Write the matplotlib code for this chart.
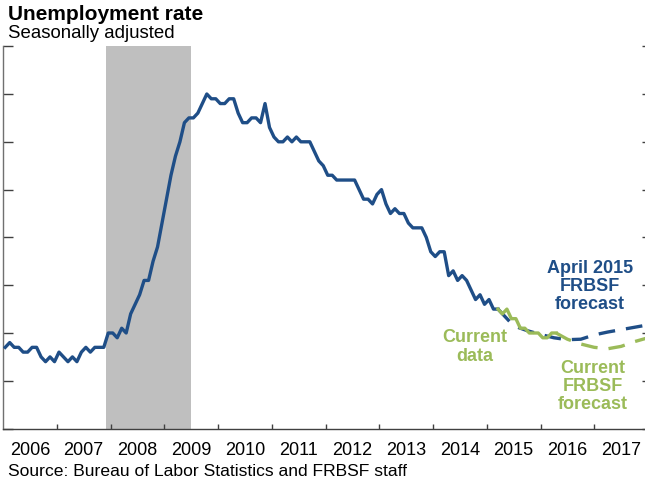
import numpy as np
import matplotlib.pyplot as plt

plt.rcParams['font.family'] = ['Liberation Sans', 'DejaVu Sans']

blue = '#1F4E87'
green = '#9BBB59'
gray = '#BFBFBF'

# monthly unemployment rate, April 2015 vintage, Jan 2006 - Mar 2015
rate_apr2015 = [
    4.7, 4.8, 4.7, 4.7, 4.6, 4.6, 4.7, 4.7, 4.5, 4.4, 4.5, 4.4,
    4.6, 4.5, 4.4, 4.5, 4.4, 4.6, 4.7, 4.6, 4.7, 4.7, 4.7, 5.0,
    5.0, 4.9, 5.1, 5.0, 5.4, 5.6, 5.8, 6.1, 6.1, 6.5, 6.8, 7.3,
    7.8, 8.3, 8.7, 9.0, 9.4, 9.5, 9.5, 9.6, 9.8, 10.0, 9.9, 9.9,
    9.8, 9.8, 9.9, 9.9, 9.6, 9.4, 9.4, 9.5, 9.5, 9.4, 9.8, 9.3,
    9.1, 9.0, 9.0, 9.1, 9.0, 9.1, 9.0, 9.0, 9.0, 8.8, 8.6, 8.5,
    8.3, 8.3, 8.2, 8.2, 8.2, 8.2, 8.2, 8.0, 7.8, 7.8, 7.7, 7.9,
    8.0, 7.7, 7.5, 7.6, 7.5, 7.5, 7.3, 7.2, 7.2, 7.2, 7.0, 6.7,
    6.6, 6.7, 6.7, 6.2, 6.3, 6.1, 6.2, 6.1, 5.9, 5.7, 5.8, 5.6,
    5.7, 5.5, 5.5,
]
start_apr2015 = 2006.0

# current data, Mar 2015 - Apr 2016
rate_current = [5.5, 5.4, 5.5, 5.3, 5.3, 5.1, 5.1, 5.0, 5.0, 5.0, 4.9, 4.9, 5.0, 5.0]
start_current = 2015 + 2 / 12

# forecasts
fc_apr2015_t = [2015.21, 2015.5, 2015.75, 2016.0, 2016.25, 2016.5, 2016.75,
                2017.0, 2017.25, 2017.5, 2017.75, 2018.0]
fc_apr2015_v = [5.5, 5.15, 5.05, 4.97, 4.9, 4.86, 4.87, 4.96, 5.02, 5.07, 5.12, 5.17]
fc_current_t = [2016.29, 2016.5, 2016.75, 2017.0, 2017.25, 2017.5, 2017.75, 2018.0]
fc_current_v = [5.0, 4.87, 4.77, 4.7, 4.67, 4.72, 4.82, 4.9]

recession = (2007 + 11 / 12, 2009.5)
years = list(range(2006, 2018))


def month_times(start, n):
    return start + (np.arange(n) + 0.5) / 12


fig = plt.figure(figsize=(6.45, 4.84), dpi=100)
ax = fig.add_axes([3 / 645, 1 - 428.6 / 484, 1.0, (428.6 - 46.2) / 484])

ax.axvspan(recession[0], recession[1], color=gray, lw=0, zorder=0)

dash = (5, 3.3)
ax.plot(fc_apr2015_t, fc_apr2015_v, color=blue, lw=2.4, dashes=dash, zorder=2)
ax.plot(fc_current_t, fc_current_v, color=green, lw=2.4, dashes=dash, zorder=3)
ax.plot(month_times(start_apr2015, len(rate_apr2015)), rate_apr2015,
        color=blue, lw=2.4, zorder=4, solid_joinstyle='round')
ax.plot(month_times(start_current, len(rate_current)), rate_current,
        color=green, lw=2.4, zorder=5, solid_joinstyle='round')

ax.set_xlim(2006, 2018)
ax.set_ylim(3, 11)

for s in ['top', 'right']:
    ax.spines[s].set_visible(False)
ax.spines['left'].set_color('#707070')
ax.spines['bottom'].set_color('#404040')
ax.spines['left'].set_linewidth(1.0)
ax.spines['bottom'].set_linewidth(1.0)

ax.set_yticks(range(3, 12))
ax.set_yticklabels([])
ax.tick_params(axis='y', direction='in', length=7.2, width=1.0, color='#404040')

ax.set_xticks(range(2007, 2018))
ax.set_xticklabels([])
ax.set_xticks([y + 0.5 for y in years], minor=True)
ax.set_xticklabels([str(y) for y in years], minor=True, fontsize=13)
ax.tick_params(axis='x', which='major', direction='in', length=3.6, width=1.0, color='#404040')
ax.tick_params(axis='x', which='minor', length=0, pad=10)

ax2 = ax.twinx()
ax2.set_ylim(3, 11)
ax2.set_yticks(range(3, 12))
ax2.set_yticklabels([])
ax2.tick_params(axis='y', direction='in', length=4.3, width=1.0, color='#404040')
for s in ax2.spines.values():
    s.set_visible(False)

lab = dict(fontsize=13, fontweight='bold', ha='center', va='center', linespacing=1.1)
ax.text(2016.92, 5.97, 'April 2015\nFRBSF\nforecast', color=blue, **lab)
ax.text(2014.78, 4.71, 'Current\ndata', color=green, **lab)
ax.text(2016.97, 3.88, 'Current\nFRBSF\nforecast', color=green, **lab)

fig.text(8 / 645, 1 - 20 / 484, 'Unemployment rate', fontsize=15, fontweight='bold', va='baseline')
fig.text(8 / 645, 1 - 37.7 / 484, 'Seasonally adjusted', fontsize=13.4, va='baseline')
fig.text(8 / 645, 1 - 476 / 484, 'Source: Bureau of Labor Statistics and FRBSF staff',
         fontsize=12.6, va='baseline')

fig.savefig('out.png', dpi=100)
